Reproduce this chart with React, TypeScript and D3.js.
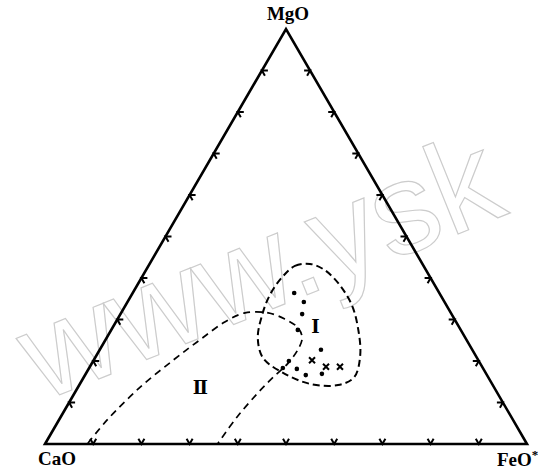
import React from 'react';
import * as d3 from 'd3';

// ternary compositions, fractions of MgO and FeO* (CaO = 1 - MgO - FeO*)
const vertexLabels = ['CaO', 'MgO', 'FeO*'];
const tickValues = [0.1, 0.2, 0.3, 0.4, 0.5, 0.6, 0.7, 0.8, 0.9];

const fieldIMg = [0.402, 0.429, 0.434, 0.419, 0.383, 0.335, 0.282, 0.214, 0.161, 0.142, 0.145, 0.173, 0.207, 0.255, 0.311, 0.359];
const fieldIFe = [0.291, 0.304, 0.333, 0.371, 0.420, 0.469, 0.508, 0.547, 0.561, 0.537, 0.477, 0.405, 0.349, 0.314, 0.295, 0.287];

const fieldIIMg = [0.002, 0.058, 0.137, 0.202, 0.251, 0.294, 0.316, 0.316, 0.301, 0.280, 0.255, 0.227, 0.195, 0.161, 0.123, 0.065, 0.002];
const fieldIIFe = [0.088, 0.100, 0.129, 0.165, 0.196, 0.226, 0.257, 0.305, 0.347, 0.385, 0.406, 0.411, 0.407, 0.393, 0.380, 0.366, 0.358];

const dotMg = [0.364, 0.342, 0.313, 0.275, 0.227, 0.200, 0.183, 0.181, 0.169, 0.166];
const dotFe = [0.335, 0.366, 0.377, 0.387, 0.459, 0.406, 0.402, 0.432, 0.490, 0.458];

const crossMg = [0.202, 0.186, 0.186];
const crossFe = [0.453, 0.490, 0.519];

const fieldNames = ['Ⅰ', 'Ⅱ'];
const fieldNameMg = [0.282, 0.135];
const fieldNameFe = [0.420, 0.255];

const W = 538;
const H = 473;

const xScale = d3.scaleLinear().domain([0, 1]).range([45, 527]);
const yScale = d3.scaleLinear().domain([0, 1]).range([444, 29]);

// fe, mg -> pixel
const pos = (fe: number, mg: number): [number, number] => [xScale(fe + mg / 2), yScale(mg)];

export default function App() {
  const ca = pos(0, 0);
  const mg = pos(0, 1);
  const fe = pos(1, 0);
  const tri = d3.line()([ca, mg, fe, ca]) + 'Z';

  const arm = 6;
  const s60 = Math.sin(Math.PI / 3);
  const chevron = (p: [number, number], d1: [number, number], d2: [number, number]) =>
    d3.line()([
      [p[0] + d1[0] * arm, p[1] + d1[1] * arm],
      p,
      [p[0] + d2[0] * arm, p[1] + d2[1] * arm],
    ]) || '';

  const ticks: string[] = [];
  tickValues.forEach(t => {
    ticks.push(chevron(pos(t, 0), [-0.5, -s60], [0.5, -s60]));
    ticks.push(chevron(pos(0, t), [1, 0], [0.5, s60]));
    ticks.push(chevron(pos(1 - t, t), [-1, 0], [-0.5, s60]));
  });

  const fieldI = d3.line().curve(d3.curveCatmullRomClosed)(fieldIMg.map((m, i) => pos(fieldIFe[i], m))) || '';
  const fieldII = d3.line().curve(d3.curveCatmullRom)(fieldIIMg.map((m, i) => pos(fieldIIFe[i], m))) || '';

  return (
    <svg width={W} height={H} style={{ position: 'absolute', left: 0, top: 0, background: '#fff' }}>
      <text
        transform="translate(42,402) rotate(-22)"
        fontFamily="Liberation Sans"
        fontSize={130}
        fill="none"
        stroke="#cccccc"
        strokeWidth={1.2}
        textLength={505}
        lengthAdjust="spacingAndGlyphs"
      >
        www.ysk
      </text>
      <path d={tri} fill="none" stroke="#000" strokeWidth={2.6} strokeLinejoin="miter" />
      {ticks.map((d, i) => (
        <path key={i} d={d} fill="none" stroke="#000" strokeWidth={2} />
      ))}
      <path d={fieldI} fill="none" stroke="#000" strokeWidth={2} strokeDasharray="7,4" />
      <path d={fieldII} fill="none" stroke="#000" strokeWidth={1.7} strokeDasharray="7,5" />
      {dotMg.map((m, i) => {
        const [x, y] = pos(dotFe[i], m);
        return <circle key={i} cx={x} cy={y} r={2.3} fill="#000" />;
      })}
      {crossMg.map((m, i) => {
        const [x, y] = pos(crossFe[i], m);
        return (
          <path key={i} d={`M${x - 3},${y - 3}L${x + 3},${y + 3}M${x - 3},${y + 3}L${x + 3},${y - 3}`} stroke="#000" strokeWidth={2} />
        );
      })}
      {fieldNames.map((n, i) => {
        const [x, y] = pos(fieldNameFe[i], fieldNameMg[i]);
        return (
          <text key={n} x={x} y={y} textAnchor="middle" dominantBaseline="central" fontFamily="DejaVu Serif" fontWeight="bold" fontSize={18}>
            {n}
          </text>
        );
      })}
      <g fontFamily="Liberation Serif" fontWeight="bold" fontSize={19}>
        <text x={mg[0] + 2} y={20} textAnchor="middle">{vertexLabels[1]}</text>
        <text x={ca[0] - 7} y={465}>{vertexLabels[0]}</text>
        <text x={fe[0] - 30} y={466}>
          FeO<tspan fontSize={13} dy={-7}>*</tspan>
        </text>
      </g>
    </svg>
  );
}
